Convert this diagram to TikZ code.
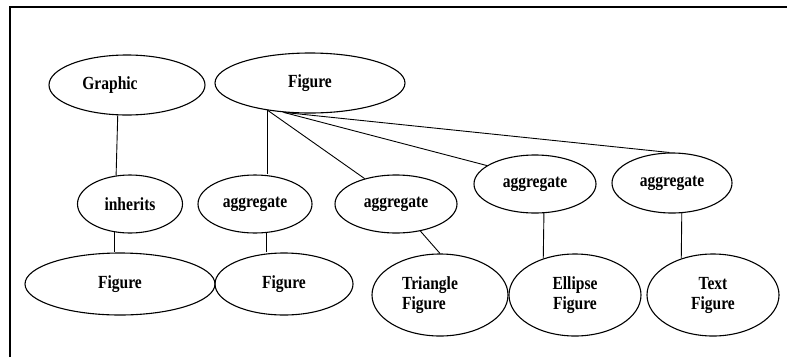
\documentclass[tikz,border=0pt]{standalone}
\usepackage{fontspec}
\newfontfamily\lblfont{Liberation Serif}[FakeStretch=0.84]
\usepackage{tikz}
\usetikzlibrary{shapes.geometric}

\begin{document}
\begin{tikzpicture}[
		x=1pt, y=-1pt,
		bubble/.style={
			ellipse,
			draw=black,
			line width=1.1pt,
			inner sep=0pt,
			align=center,
			font=\lblfont\bfseries\fontsize{18.5}{20}\selectfont
		},
		link/.style={
			line width=0.9pt
		}
	]
	\useasboundingbox (0,0) rectangle (787,357);
	\draw[line width=2pt] (10,357) -- (10,7) -- (787,7);
	
	% top row
	\node[bubble, minimum width=156pt, minimum height=60pt] (graphic) at (127,85) {Graphic\kern34pt};
	\node[bubble, minimum width=190pt, minimum height=60pt] (fig) at (310,83) {Figure};
	
	% relation row
	\node[bubble, minimum width=105pt, minimum height=58pt] (inh) at (130,204) {inherits};
	\node[bubble, minimum width=114pt, minimum height=58pt] (aggA) at (255,204) {aggregate};
	\node[bubble, minimum width=122pt, minimum height=58pt] (aggB) at (396,204) {aggregate};
	\node[bubble, minimum width=122pt, minimum height=58pt] (aggC) at (535,184) {aggregate};
	\node[bubble, minimum width=120pt, minimum height=60pt] (aggD) at (672,183) {aggregate};
	
	% bottom row
	\node[bubble, minimum width=190pt, minimum height=62pt] (figA) at (120,284) {Figure};
	\node[bubble, minimum width=138pt, minimum height=62pt] (figB) at (284,284) {Figure};
	\node[bubble, minimum width=136pt, minimum height=82pt, align=left] (tri) at (440,295) {Triangle\kern20pt\\Figure};
	\node[bubble, minimum width=132pt, minimum height=82pt] (ell) at (575,295) {Ellipse\\Figure};
	\node[bubble, minimum width=132pt, minimum height=82pt] (txt) at (713,295) {Text\\Figure};
	
	\draw[link] (graphic.253) -- (inh.116);
	\draw[link] (inh.241) -- (inh.241 |- figA.north);
	\draw[link] (fig.213) -- (fig.213 |- aggA.north);
	\draw[link] (fig.213) -- (aggB.141);
	\draw[link] (fig.228) -- (aggC.159);
	\draw[link] (fig.228) -- (aggD.95);
	\draw[link] (aggA.292) -- (aggA.292 |- figB.north);
	\draw[link] (aggB.312) -- (tri.north);
	\draw[link] (aggC.287) -- (ell.131);
	\draw[link] (aggD.288) -- (txt.131);
	
\end{tikzpicture}
\end{document}
